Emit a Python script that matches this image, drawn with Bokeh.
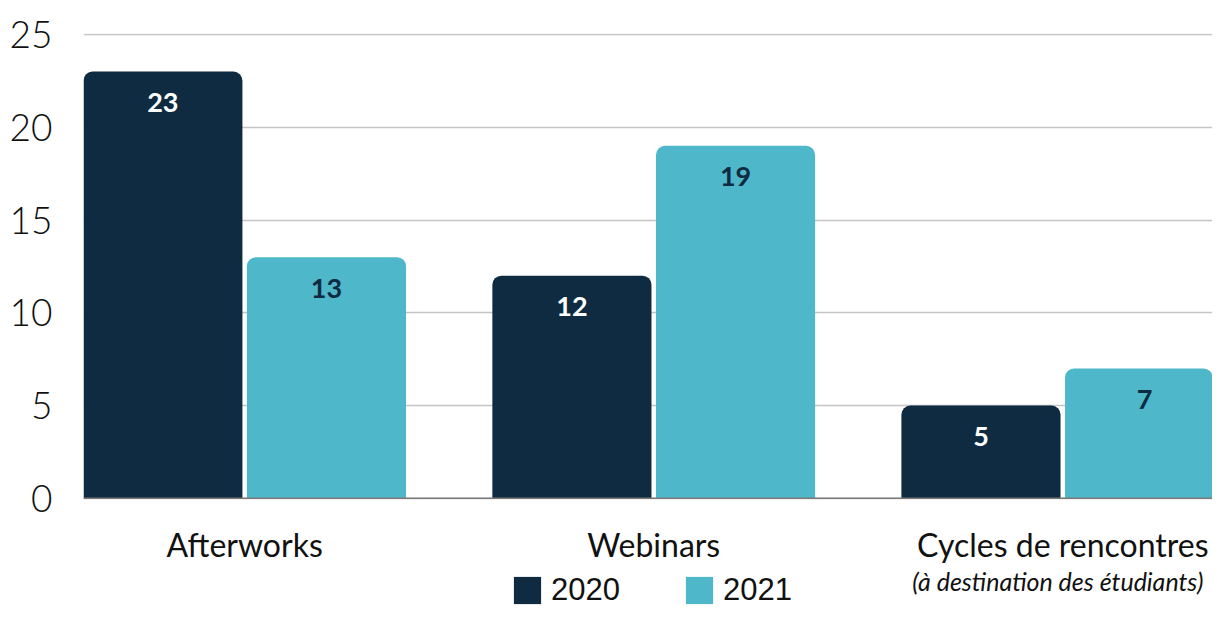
from bokeh.plotting import figure
from bokeh.models import (Range1d, FixedTicker, Legend, LegendItem,
                          ColumnDataSource, Span)
from bokeh.core.properties import value
from bokeh.embed import file_html
from bokeh.resources import INLINE

categories = ["Afterworks", "Webinars", "Cycles de rencontres"]
subtitles = ["", "", "(à destination des étudiants)"]
series_names = ["2020", "2021"]
values_2020 = [23, 12, 5]
values_2021 = [13, 19, 7]
y_ticks = [0, 5, 10, 15, 20, 25]

DARK = "#0e2b41"
LIGHT = "#4eb8ca"
TEXT = "#111111"

# frame extends below zero so that category labels and legend live inside it
p = figure(width=1212, height=608, output_backend="svg", toolbar_location=None,
           x_range=Range1d(-0.394, 2.366), y_range=Range1d(-5.94, 25.054),
           min_border_left=83, min_border_right=0, min_border_top=33,
           min_border_bottom=0)
p.outline_line_color = None
p.xgrid.grid_line_color = None
p.ygrid.grid_line_color = "#c4c4c4"
p.ygrid.grid_line_width = 1.5
p.xaxis.visible = False

xs = list(range(len(categories)))
off = 0.2
w = 0.389
src20 = ColumnDataSource(dict(x=[i - off for i in xs], top=values_2020,
                              lab=[str(v) for v in values_2020]))
src21 = ColumnDataSource(dict(x=[i + off for i in xs], top=values_2021,
                              lab=[str(v) for v in values_2021]))

r20 = p.vbar(x="x", top="top", width=w, bottom=0, source=src20,
             fill_color=DARK, line_color=None, border_radius=(9, 9, 0, 0))
r21 = p.vbar(x="x", top="top", width=w, bottom=0, source=src21,
             fill_color=LIGHT, line_color=None, border_radius=(9, 9, 0, 0))

p.add_layout(Span(location=0, dimension="width", line_color="#7a7a7a",
                  line_width=1.5))

p.text(x="x", y="top", text="lab", source=src20, y_offset=31,
       text_align="center", text_baseline="middle", text_color="white",
       text_font=value("Lato"), text_font_style="bold", text_font_size="27px")
p.text(x="x", y="top", text="lab", source=src21, y_offset=31,
       text_align="center", text_baseline="middle", text_color=DARK,
       text_font=value("Lato"), text_font_style="bold", text_font_size="27px")

# category labels (drawn below the zero line)
cat_src = ColumnDataSource(dict(x=xs, y=[0] * len(xs), t=categories,
                                s=subtitles))
p.text(x="x", y="y", text="t", source=cat_src, y_offset=46,
       text_align="center", text_baseline="middle", text_color=TEXT,
       text_font=value("Lato"), text_font_size="32px")
p.text(x="x", y="y", text="s", source=cat_src, y_offset=83, x_offset=-5,
       text_align="center", text_baseline="middle", text_color=TEXT,
       text_font=value("Lato"), text_font_style="italic",
       text_font_size="25px")

# y axis
p.yaxis.ticker = FixedTicker(ticks=y_ticks)
p.yaxis.axis_line_color = None
p.yaxis.major_tick_line_color = None
p.yaxis.minor_tick_line_color = None
p.yaxis.major_label_standoff = 25
p.yaxis.major_label_text_font = "'Lato Light', Lato"
p.yaxis.major_label_text_font_size = "37px"
p.yaxis.major_label_text_color = TEXT

legend = Legend(items=[LegendItem(label=series_names[0], renderers=[r20]),
                       LegendItem(label=series_names[1], renderers=[r21])],
                orientation="horizontal", location=(427, 0),
                padding=0, margin=0, spacing=62, label_standoff=7,
                glyph_width=34, glyph_height=34,
                label_text_font="Liberation Sans", label_text_font_size="31px",
                label_text_color=TEXT,
                border_line_color=None, background_fill_alpha=0)
p.add_layout(legend, "center")

open("out.html", "w").write(file_html(p, INLINE))
